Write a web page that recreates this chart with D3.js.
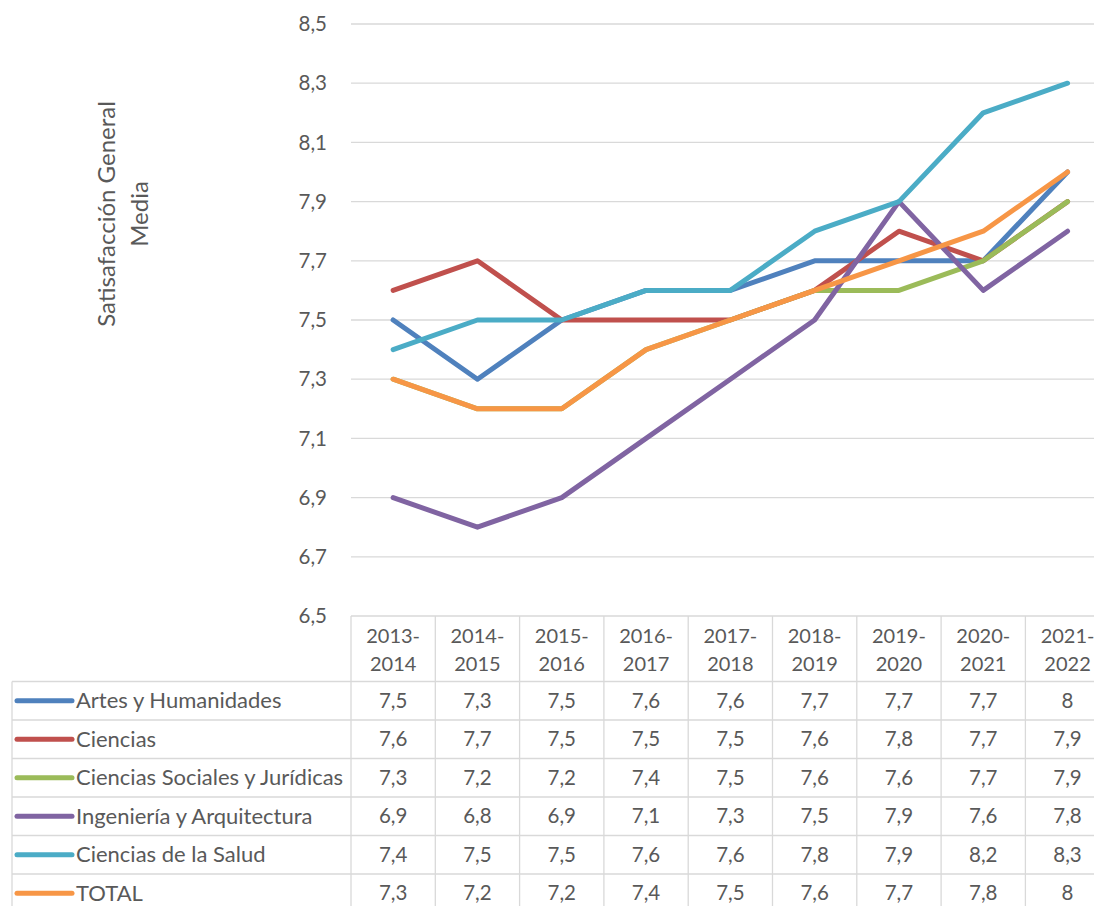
<!DOCTYPE html>
<html>
<head>
<meta charset="utf-8">
<script src="https://cdn.jsdelivr.net/npm/d3@7"></script>
<style>
  body { margin: 0; background: #fff; }
  svg text { font-family: Lato, "Open Sans", sans-serif; fill: #595959; }
</style>
</head>
<body>
<svg id="chart" width="1094" height="906"></svg>
<script>
const years = ['2013-2014', '2014-2015', '2015-2016', '2016-2017', '2017-2018',
               '2018-2019', '2019-2020', '2020-2021', '2021-2022'];
const seriesNames = ['Artes y Humanidades', 'Ciencias', 'Ciencias Sociales y Jurídicas',
                     'Ingeniería y Arquitectura', 'Ciencias de la Salud', 'TOTAL'];
const artes      = [7.5, 7.3, 7.5, 7.6, 7.6, 7.7, 7.7, 7.7, 8];
const ciencias   = [7.6, 7.7, 7.5, 7.5, 7.5, 7.6, 7.8, 7.7, 7.9];
const sociales   = [7.3, 7.2, 7.2, 7.4, 7.5, 7.6, 7.6, 7.7, 7.9];
const ingenieria = [6.9, 6.8, 6.9, 7.1, 7.3, 7.5, 7.9, 7.6, 7.8];
const salud      = [7.4, 7.5, 7.5, 7.6, 7.6, 7.8, 7.9, 8.2, 8.3];
const total      = [7.3, 7.2, 7.2, 7.4, 7.5, 7.6, 7.7, 7.8, 8];
const yTicks = [6.5, 6.7, 6.9, 7.1, 7.3, 7.5, 7.7, 7.9, 8.1, 8.3, 8.5];
const colors = ['#4F81BD', '#C0504D', '#9BBB59', '#8064A2', '#4BACC6', '#F79646'];

const series = seriesNames.map((name, i) => ({
  name, color: colors[i],
  values: [artes, ciencias, sociales, ingenieria, salud, total][i]
}));

const svg = d3.select('#chart');
const plotLeft = 351, colW = 84.3;
const plotTop = 24, plotBottom = 616;
const headerH = 65.5, rowH = 38.5;
const legendLeft = 12;
const fmt = v => String(v).replace('.', ',');

const x = d3.scaleBand().domain(years).range([plotLeft, plotLeft + colW * years.length]);
const y = d3.scaleLinear().domain([6.5, 8.5]).range([plotBottom, plotTop]);

// gridlines
svg.append('g').selectAll('line')
  .data(yTicks.slice(1))
  .join('line')
  .attr('x1', plotLeft).attr('x2', 1094)
  .attr('y1', d => y(d)).attr('y2', d => y(d))
  .attr('stroke', '#d9d9d9').attr('stroke-width', 1.3);

// y tick labels
svg.append('g').selectAll('text')
  .data(yTicks)
  .join('text')
  .attr('x', 327).attr('y', d => y(d))
  .attr('dy', '0.35em')
  .attr('text-anchor', 'end')
  .style('font-size', '20.5px')
  .text(fmt);

// axis title (two lines, rotated)
const title = svg.append('text')
  .attr('transform', 'translate(0,214) rotate(-90)')
  .attr('text-anchor', 'middle')
  .style('font-size', '24px');
title.append('tspan').attr('x', 0).attr('y', 115).text('Satisafacción General');
title.append('tspan').attr('x', 0).attr('y', 148).text('Media');

// lines
const line = d3.line()
  .x((d, i) => x(years[i]) + x.bandwidth() / 2)
  .y(d => y(d));

svg.append('g').selectAll('path')
  .data(series)
  .join('path')
  .attr('d', d => line(d.values))
  .attr('fill', 'none')
  .attr('stroke', d => d.color)
  .attr('stroke-width', 5)
  .attr('stroke-linejoin', 'round')
  .attr('stroke-linecap', 'round');

// data table
const grid = svg.append('g').attr('stroke', '#d9d9d9').attr('stroke-width', 1.3);
const tableBottom = plotBottom + headerH + rowH * series.length;
const tableRight = plotLeft + colW * years.length;
years.forEach(yr => {
  grid.append('line')
    .attr('x1', x(yr)).attr('x2', x(yr))
    .attr('y1', plotBottom).attr('y2', tableBottom);
});
grid.append('line').attr('x1', tableRight).attr('x2', tableRight)
  .attr('y1', plotBottom).attr('y2', tableBottom);
grid.append('line').attr('x1', legendLeft).attr('x2', legendLeft)
  .attr('y1', plotBottom + headerH).attr('y2', tableBottom);
grid.append('line').attr('x1', plotLeft).attr('x2', tableRight)
  .attr('y1', plotBottom).attr('y2', plotBottom);
d3.range(series.length + 1).forEach(r => {
  const yy = plotBottom + headerH + r * rowH;
  grid.append('line').attr('x1', legendLeft).attr('x2', tableRight)
    .attr('y1', yy).attr('y2', yy);
});

// header labels
const hdr = svg.append('g').selectAll('text')
  .data(years)
  .join('text')
  .attr('text-anchor', 'middle')
  .style('font-size', '20px');
hdr.append('tspan')
  .attr('x', d => x(d) + x.bandwidth() / 2).attr('y', plotBottom + 27)
  .text(d => d.split('-')[0] + '-');
hdr.append('tspan')
  .attr('x', d => x(d) + x.bandwidth() / 2).attr('y', plotBottom + 55)
  .text(d => d.split('-')[1]);

// rows: legend key, name, values
series.forEach((s, r) => {
  const cy = plotBottom + headerH + r * rowH + rowH / 2;
  svg.append('line')
    .attr('x1', 17).attr('x2', 72)
    .attr('y1', cy).attr('y2', cy)
    .attr('stroke', s.color).attr('stroke-width', 5)
    .attr('stroke-linecap', 'round');
  svg.append('text')
    .attr('x', 76).attr('y', cy).attr('dy', '0.35em')
    .style('font-size', '22px')
    .text(s.name);
  svg.append('g').selectAll('text')
    .data(s.values)
    .join('text')
    .attr('x', (d, i) => x(years[i]) + x.bandwidth() / 2)
    .attr('y', cy).attr('dy', '0.35em')
    .attr('text-anchor', 'middle')
    .style('font-size', '20.5px')
    .text(fmt);
});
</script>
</body>
</html>
